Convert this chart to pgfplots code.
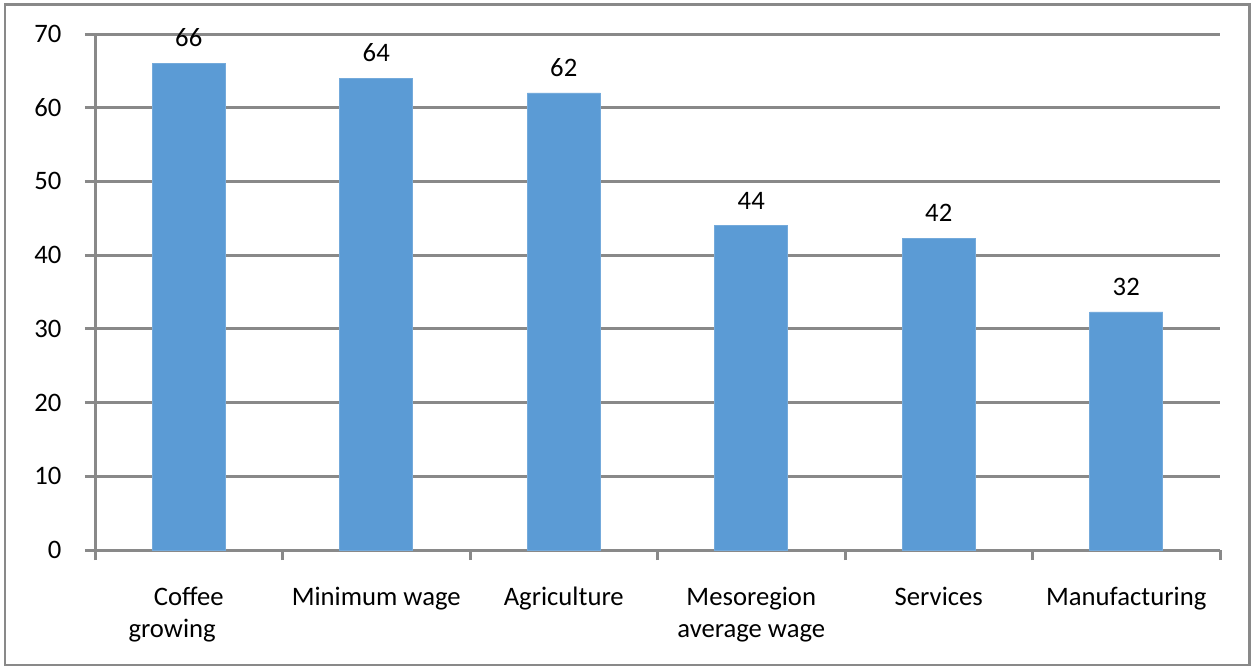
\documentclass[border=0pt]{standalone}
\usepackage{pgfplots}
\pgfplotsset{compat=1.18}
\usepackage{fontspec}
\setmainfont{Carlito}
\definecolor{barblue}{HTML}{5B9BD5}
\definecolor{gridgray}{HTML}{898989}
\begin{document}
\begin{tikzpicture}
\path[use as bounding box] (0,0) rectangle (751.8pt,401.4pt);
\draw[gridgray, line width=1.5pt] (3pt,2.4pt) rectangle (749.7pt,398.7pt);
\begin{axis}[
  at={(57pt,71.4pt)}, anchor=south west,
  scale only axis, width=675pt, height=309.6pt,
  xmin=-0.5, xmax=5.5, ymin=0, ymax=70,
  ytick={0,10,...,70},
  xtick={-0.5,0.5,...,5.5},
  xticklabels={Coffee\\growing\hspace*{20pt}, Minimum wage, Agriculture, Mesoregion\\average wage, Services, Manufacturing},
  x tick label as interval,
  axis x line*=bottom, axis y line*=left,
  axis line style={gridgray, line width=1.8pt},
  ymajorgrids,
  grid style={gridgray, line width=1.8pt},
  major tick style={gridgray, line width=1.8pt},
  tick align=outside,
  major tick length=6pt,
  /pgf/number format/assume math mode=true,
  ticklabel style={font=\fontsize{16}{19.2}\selectfont, text=black},
  xticklabel style={align=center, inner sep=0pt, anchor=north, yshift=-16pt},
  yticklabel style={inner sep=0pt, anchor=east, xshift=-14pt},
  nodes near coords={\pgfmathprintnumber[fixed,precision=0]{\pgfplotspointmeta}},
  every node near coord/.append style={font=\fontsize{16}{19.2}\selectfont, text=black, inner sep=0pt, yshift=9.6pt},
  ybar, bar width=43.8pt,
  clip=false,
]
\addplot[fill=barblue, draw=barblue!85!white, line width=0.4pt] coordinates {(0,66) (1,64) (2,62) (3,44) (4,42.3) (5,32.3)};
\end{axis}
\end{tikzpicture}
\end{document}
